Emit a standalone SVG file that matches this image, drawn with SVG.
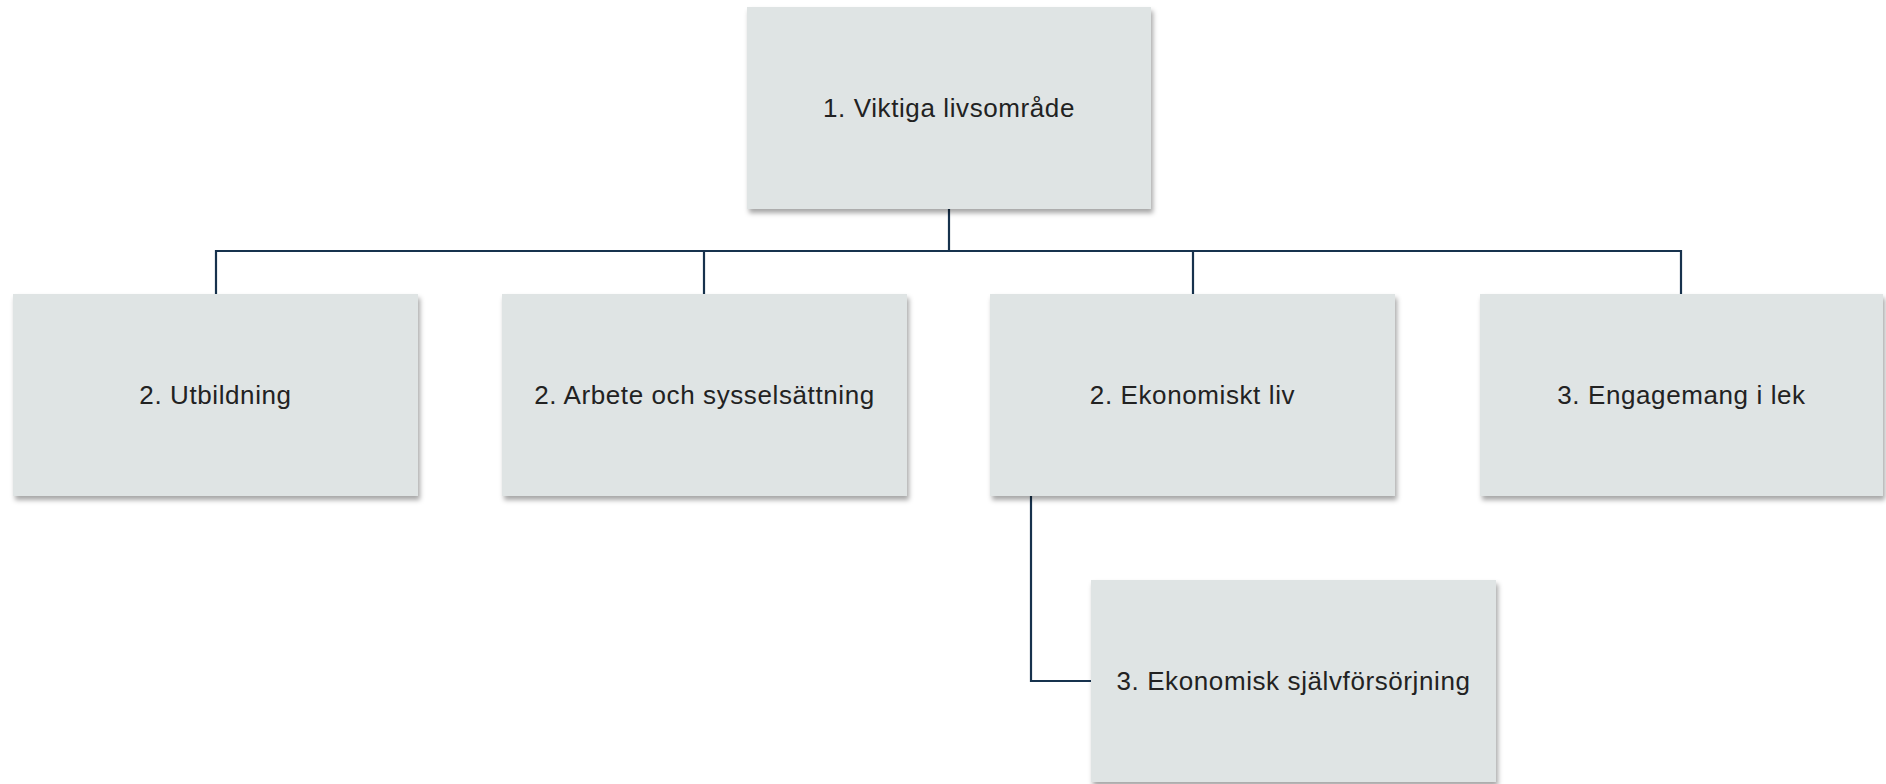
<svg xmlns="http://www.w3.org/2000/svg" width="1886" height="784" viewBox="0 0 1886 784">
<defs>
<filter id="sh" x="-5%" y="-5%" width="112%" height="115%">
<feDropShadow dx="2" dy="4" stdDeviation="2.5" flood-color="#000" flood-opacity="0.35"/>
</filter>
<style>
.box{fill:#dfe4e4;filter:url(#sh);}
.lbl{font-family:"Liberation Sans",Arial,sans-serif;font-size:26px;letter-spacing:0.6px;fill:#222;text-anchor:middle;}
.con{fill:none;stroke:#17324d;stroke-width:2.2;}
</style>
</defs>
<rect width="1886" height="784" fill="#fff"/>
<g id="connectors">
<path class="con" d="M949,209 V251 M216,294 V251 H1681 V294 M704,251 V294 M1193,251 V294"/>
<path class="con" d="M1031,496 V681 H1091"/>
</g>
<g id="n1"><rect class="box" x="747" y="7" width="404" height="202"/><text class="lbl" x="949" y="117">1. Viktiga livsområde</text></g>
<g id="n2a"><rect class="box" x="13" y="294" width="405" height="202"/><text class="lbl" x="215.5" y="404">2. Utbildning</text></g>
<g id="n2b"><rect class="box" x="502" y="294" width="405" height="202"/><text class="lbl" x="704.5" y="404">2. Arbete och sysselsättning</text></g>
<g id="n2c"><rect class="box" x="990" y="294" width="405" height="202"/><text class="lbl" x="1192.5" y="404">2. Ekonomiskt liv</text></g>
<g id="n3a"><rect class="box" x="1480" y="294" width="403" height="202"/><text class="lbl" x="1681.5" y="404">3. Engagemang i lek</text></g>
<g id="n3b"><rect class="box" x="1091" y="580" width="405" height="202"/><text class="lbl" x="1293.5" y="690">3. Ekonomisk självförsörjning</text></g>
</svg>
